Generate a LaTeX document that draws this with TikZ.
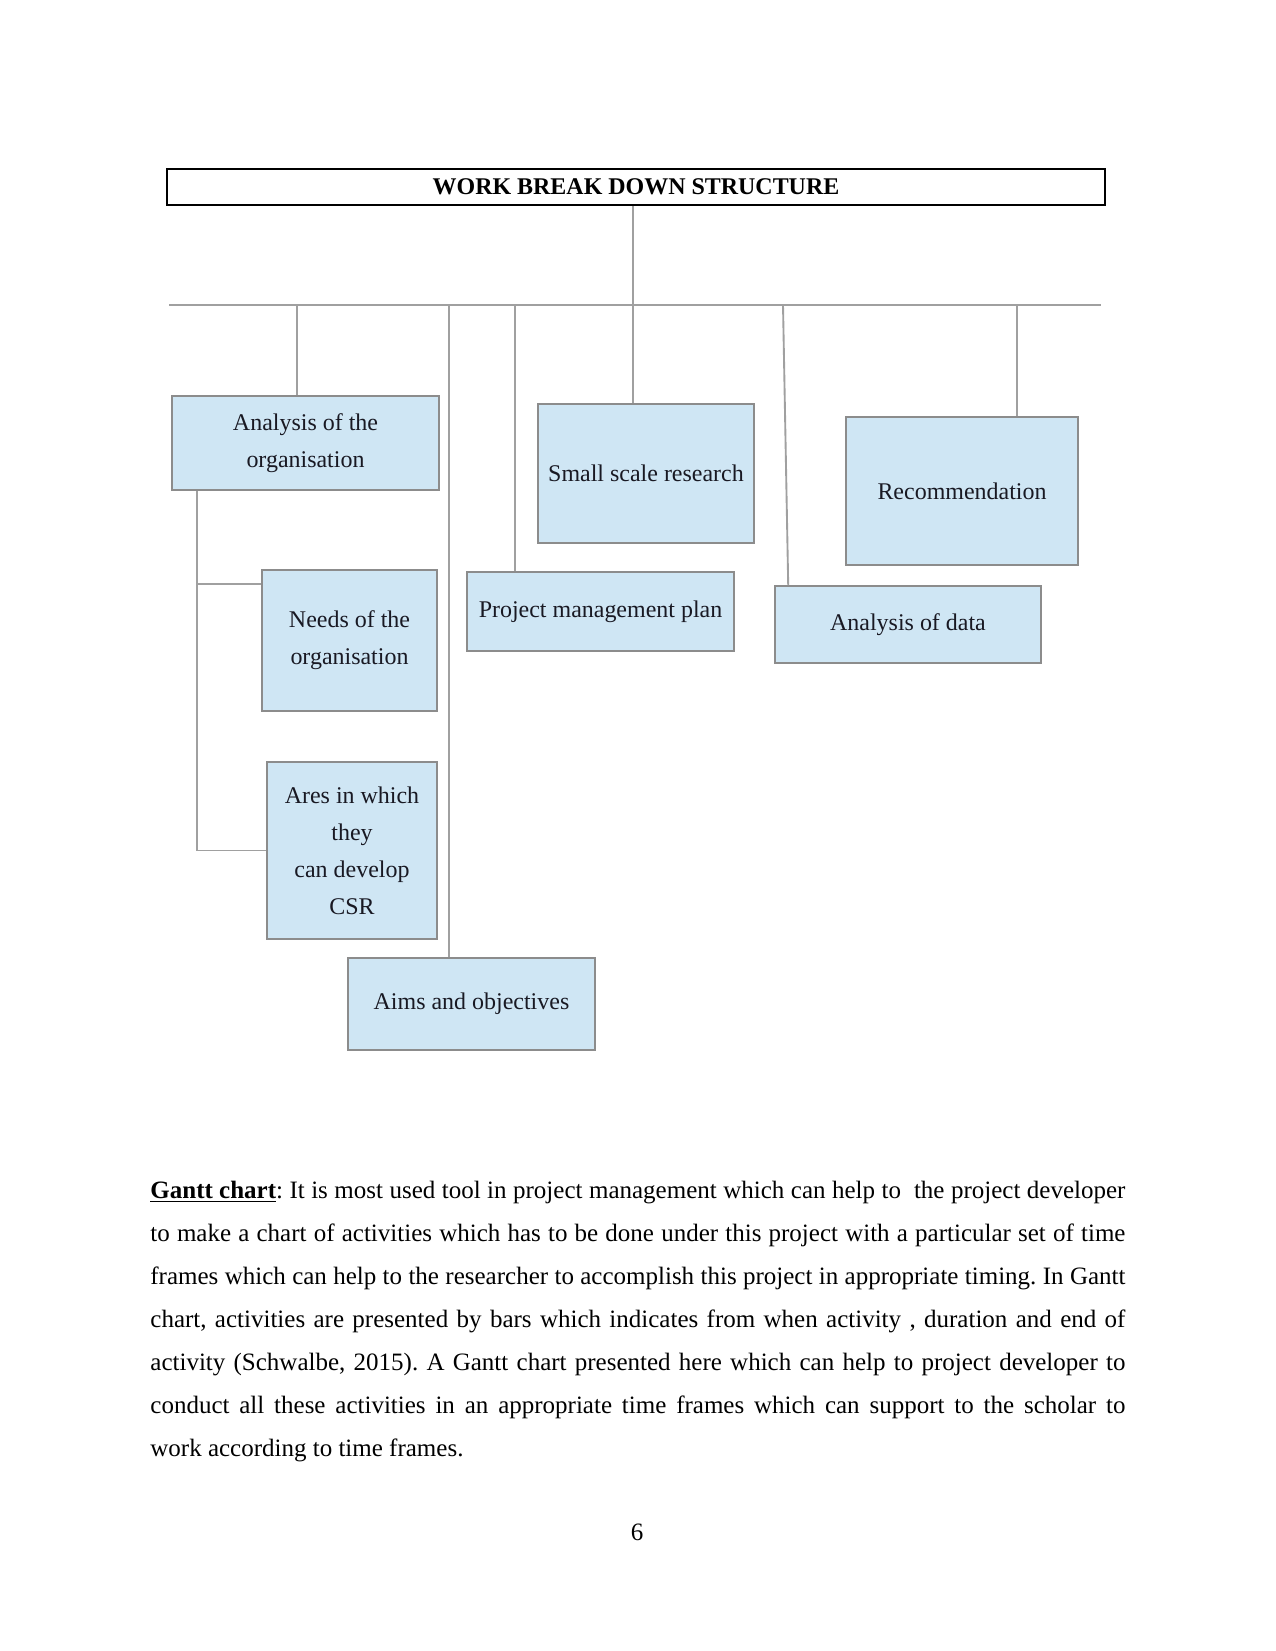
\documentclass[tikz,border=0pt]{standalone}
\usepackage{fontspec}
\setmainfont{Liberation Serif}
\definecolor{boxblue}{RGB}{207,230,244}
\definecolor{boxgray}{RGB}{140,140,140}
\definecolor{linkgray}{RGB}{160,160,160}
\definecolor{boxtext}{RGB}{25,25,35}
\tikzset{
  wbs/.style={draw=boxgray, fill=boxblue, line width=0.7pt, inner sep=0pt,
    align=center, text=boxtext, font=\fontsize{11.5}{17.8}\selectfont},
  link/.style={draw=linkgray, line width=0.9pt}
}
\frenchspacing
\begin{document}
\begin{tikzpicture}[x=0.48pt, y=-0.48pt]
  \useasboundingbox (0,0) rectangle (1275,1651);
  % title
  \node[draw=black, line width=1pt, minimum width=450.2pt, minimum height=17.3pt, inner sep=0pt,
    font=\fontsize{11.5}{14}\selectfont\bfseries] (title) at (636,187) {WORK BREAK DOWN STRUCTURE};
  % bus line and drop points
  \coordinate (busL) at (169,305);
  \coordinate (busR) at (1101,305);
  \coordinate (trunk) at (633,305);
  \coordinate (d1) at (297,305);
  \coordinate (d2) at (449,305);
  \coordinate (d3) at (515,305);
  \coordinate (d5) at (783,305);
  \coordinate (d6) at (1017,305);
  \draw[link] (busL) -- (busR);
  \draw[link] (trunk |- title.south) -- (trunk);
  % boxes
  \node[wbs, minimum width=128.2pt, minimum height=45.1pt] (ana) at (305.5,443) {Analysis of the\\organisation};
  \node[wbs, minimum width=103.7pt, minimum height=66.7pt] (small) at (646,473.5) {Small scale research};
  \node[wbs, minimum width=111.4pt, minimum height=71pt] (rec) at (962,491) {Recommendation};
  \node[wbs, minimum width=84pt, minimum height=67.7pt] (needs) at (349.5,640.5) {Needs of the\\organisation};
  \node[wbs, minimum width=128.2pt, minimum height=37.9pt] (pm) at (600.5,611.5) {Project management plan};
  \node[wbs, minimum width=127.7pt, minimum height=37pt] (data) at (908,624.5) {Analysis of data};
  \node[wbs, minimum width=81.6pt, minimum height=85pt] (ares) at (352,850.5) {Ares in which\\they\\can develop\\CSR};
  \node[wbs, minimum width=118.6pt, minimum height=44.2pt] (aims) at (471.5,1004) {Aims and objectives};
  % drops from the bus
  \draw[link] (d1) -- (d1 |- ana.north);
  \draw[link] (d2) -- (d2 |- aims.north);
  \draw[link] (d3) -- (d3 |- pm.north);
  \draw[link] (trunk) -- (trunk |- small.north);
  \draw[link] (d5) -- ([xshift=6.7pt]data.north west);
  \draw[link] (d6) -- (d6 |- rec.north);
  % sub-tasks of the analysis
  \coordinate (spine) at (197,490);
  \coordinate (nb) at (197,584);
  \draw[link] (spine |- ana.south) -- (spine |- ares.west) -- (ares.west);
  \draw[link] (nb) -- (nb -| needs.west);
  % text below
  \node[anchor=base west, inner sep=0pt] (gantt) at (150,1198) {\parbox[t]{468pt}{\fontsize{12}{20.7}\selectfont
    \underline{\textbf{Gantt chart}}: It is most used tool in project management which can help to\ \ the project developer\linebreak
    to make a chart of activities which has to be done under this project with a particular set of time\linebreak
    frames which can help to the researcher to accomplish this project in appropriate timing. In Gantt\linebreak
    chart, activities are presented by bars which indicates from when activity , duration and end of\linebreak
    activity (Schwalbe, 2015). A Gantt chart presented here which can help to project developer to\linebreak
    conduct all these activities in an appropriate time frames which can support to the scholar to\linebreak
    work according to time frames.}};
  \node[anchor=base, inner sep=0pt, font=\fontsize{12}{14}\selectfont] (pagenum) at (637,1540) {6};
\end{tikzpicture}
\end{document}
